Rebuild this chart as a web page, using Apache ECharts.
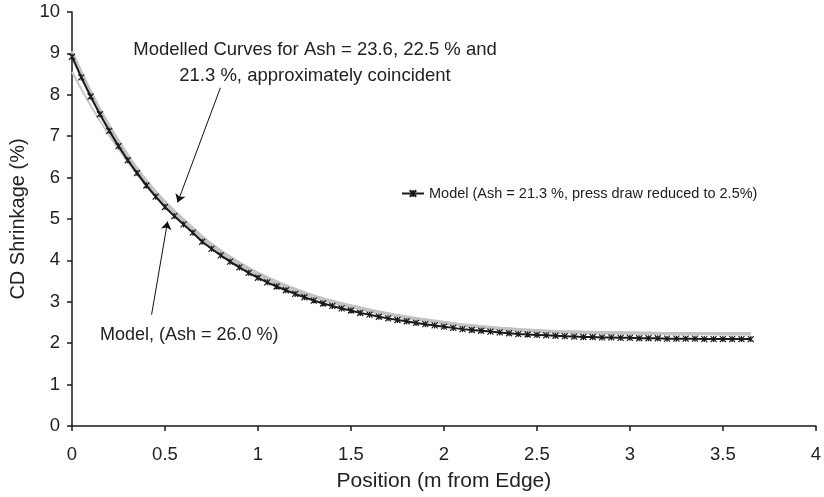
<!DOCTYPE html>
<html>
<head>
<meta charset="utf-8">
<script src="https://cdn.jsdelivr.net/npm/echarts@6/dist/echarts.min.js"></script>
<style>
html,body{margin:0;padding:0;background:#fff;}
#chart{width:824px;height:497px;}
</style>
</head>
<body>
<div id="chart"></div>
<script>
// Fine grid positions (m from edge) for the marked model curve
const posFine = [0.00,0.05,0.10,0.15,0.20,0.25,0.30,0.35,0.40,0.45,0.50,0.55,0.60,0.65,0.70,0.75,0.80,0.85,0.90,0.95,
  1.00,1.05,1.10,1.15,1.20,1.25,1.30,1.35,1.40,1.45,1.50,1.55,1.60,1.65,1.70,1.75,1.80,1.85,1.90,1.95,
  2.00,2.05,2.10,2.15,2.20,2.25,2.30,2.35,2.40,2.45,2.50,2.55,2.60,2.65,2.70,2.75,2.80,2.85,2.90,2.95,
  3.00,3.05,3.10,3.15,3.20,3.25,3.30,3.35,3.40,3.45,3.50,3.55,3.60,3.65];
const pressDrawReduced = [8.92,8.42,7.96,7.53,7.13,6.76,6.42,6.11,5.81,5.54,
  5.29,5.07,4.87,4.67,4.45,4.28,4.12,3.97,3.83,3.70,
  3.58,3.47,3.37,3.28,3.19,3.11,3.03,2.96,2.90,2.84,
  2.79,2.73,2.69,2.64,2.60,2.56,2.53,2.49,2.46,2.43,
  2.40,2.37,2.34,2.32,2.30,2.28,2.26,2.24,2.22,2.21,
  2.20,2.19,2.18,2.17,2.16,2.15,2.15,2.14,2.14,2.13,
  2.13,2.12,2.12,2.12,2.11,2.11,2.11,2.11,2.10,2.10,2.10,2.10,2.10,2.10];

// Coarse grid positions for the unmarked model curves
const posCoarse = [0.0,0.1,0.2,0.3,0.4,0.5,0.6,0.7,0.8,0.9,1.0,1.1,1.2,1.3,1.4,1.5,1.6,1.7,1.8,1.9,
  2.0,2.1,2.2,2.3,2.4,2.5,2.6,2.7,2.8,2.9,3.0,3.1,3.2,3.3,3.4,3.5,3.6,3.65];
const ash213 = [8.98,8.03,7.20,6.49,5.88,5.37,4.95,4.54,4.20,3.91,3.66,3.45,3.27,3.12,2.99,2.88,2.78,2.70,2.62,2.55,
  2.48,2.43,2.39,2.35,2.32,2.29,2.27,2.26,2.25,2.24,2.24,2.23,2.23,2.22,2.22,2.22,2.22,2.22];
const ash225 = [9.02,8.06,7.23,6.52,5.91,5.40,4.97,4.56,4.22,3.93,3.68,3.47,3.29,3.14,3.01,2.90,2.80,2.71,2.63,2.56,
  2.50,2.44,2.40,2.36,2.33,2.30,2.28,2.27,2.26,2.25,2.25,2.24,2.24,2.23,2.23,2.23,2.23,2.23];
const ash236 = [9.05,8.09,7.26,6.55,5.93,5.42,4.99,4.58,4.24,3.95,3.70,3.49,3.31,3.15,3.02,2.91,2.81,2.72,2.64,2.57,
  2.51,2.45,2.41,2.37,2.34,2.31,2.29,2.28,2.27,2.26,2.25,2.25,2.24,2.24,2.24,2.24,2.24,2.24];
const ash260 = [8.55,7.74,7.02,6.37,5.79,5.31,4.90,4.50,4.17,3.88,3.63,3.43,3.25,3.10,2.97,2.86,2.77,2.69,2.61,2.54,
  2.48,2.43,2.38,2.34,2.31,2.29,2.27,2.26,2.25,2.24,2.23,2.23,2.22,2.22,2.22,2.21,2.21,2.21];

const xTicks = [0, 0.5, 1, 1.5, 2, 2.5, 3, 3.5, 4];
const yTicks = [0, 1, 2, 3, 4, 5, 6, 7, 8, 9, 10];

const legendName = 'Model (Ash = 21.3 %, press draw reduced to 2.5%)';
const noteCoincident = 'Modelled Curves for Ash = 23.6, 22.5 % and\n21.3 %, approximately coincident';
const noteAsh26 = 'Model, (Ash = 26.0 %)';
// annotation arrows in data coordinates: [fromX, fromY, toX, toY]
const arrowLines = [[0.798, 8.17, 0.568, 5.40], [0.428, 2.69, 0.514, 4.94]];

function zip(xs, ys){ return xs.map((x,i)=>[x, ys[i]]); }

const FONT = 'Liberation Sans, Arial, Helvetica, sans-serif';
const chart = echarts.init(document.getElementById('chart'), null, {renderer:'canvas'});

const grayLine = (name, ys, w, c) => ({
  name: name, type: 'line', data: zip(posCoarse, ys), smooth: 0.3,
  showSymbol: false, symbol: 'none', silent: true,
  lineStyle: {color: c, width: w}, z: 2
});

chart.setOption({
  animation: false,
  backgroundColor: '#ffffff',
  textStyle: {fontFamily: FONT},
  grid: {left: 69, right: 8, top: 12, bottom: 69, containLabel: false},
  legend: {
    data: [legendName], left: 396, top: 181, itemWidth: 22, itemHeight: 8,
    textStyle: {fontSize: 14.5, color: '#222', fontFamily: FONT},
    selectedMode: false
  },
  xAxis: {
    type: 'value', min: xTicks[0], max: xTicks[xTicks.length-1], interval: 0.5,
    name: 'Position (m from Edge)', nameLocation: 'middle', nameGap: 45,
    nameTextStyle: {fontSize: 21, color: '#222', fontFamily: FONT},
    axisLine: {show: true, lineStyle: {color: '#1a1a1a', width: 1.5}},
    axisTick: {show: true, inside: false, length: 5, lineStyle: {color: '#1a1a1a', width: 1.5}},
    axisLabel: {fontSize: 18.5, color: '#222', margin: 19, fontFamily: FONT},
    splitLine: {show: false}
  },
  yAxis: {
    type: 'value', min: yTicks[0], max: yTicks[yTicks.length-1], interval: 1,
    name: 'CD Shrinkage (%)', nameLocation: 'middle', nameGap: 44,
    nameTextStyle: {fontSize: 20, color: '#222', fontFamily: FONT},
    axisLine: {show: true, lineStyle: {color: '#1a1a1a', width: 1.5}},
    axisTick: {show: true, inside: false, length: 5, lineStyle: {color: '#1a1a1a', width: 1.5}},
    axisLabel: {fontSize: 18.5, color: '#222', margin: 12, fontFamily: FONT},
    splitLine: {show: false}
  },
  series: [
    grayLine('Model (Ash = 26.0 %)', ash260, 2, '#c9c9c9'),
    grayLine('Model (Ash = 23.6 %)', ash236, 2.5, '#c2c2c2'),
    grayLine('Model (Ash = 22.5 %)', ash225, 2.5, '#c2c2c2'),
    grayLine('Model (Ash = 21.3 %)', ash213, 2.5, '#c2c2c2'),
    {
      name: legendName, type: 'line', data: zip(posFine, pressDrawReduced),
      symbol: 'path://M0,0L10,10M10,0L0,10M5,0L5,10', symbolSize: 6, showAllSymbol: true,
      itemStyle: {color: '#1a1a1a', borderColor: '#1a1a1a', borderWidth: 1.2},
      lineStyle: {color: '#1a1a1a', width: 2}, z: 5, silent: true,
      markLine: {
        silent: true, symbol: ['none', 'arrow'], symbolSize: 8,
        label: {show: false},
        lineStyle: {color: '#111', width: 1, type: 'solid'},
        emphasis: {disabled: true},
        data: arrowLines.map(a => [{coord: [a[0], a[1]]}, {coord: [a[2], a[3]]}])
      }
    }
  ],
  graphic: [
    {type: 'text', x: 315, y: 37, silent: true,
      style: {text: noteCoincident, fill: '#222', font: '18.5px ' + FONT, textAlign: 'center', textVerticalAlign: 'top', lineHeight: 26}},
    {type: 'text', x: 100, y: 335, silent: true,
      style: {text: noteAsh26, fill: '#222', font: '18px ' + FONT, textAlign: 'left', textVerticalAlign: 'middle'}}
  ]
});
</script>
</body>
</html>
